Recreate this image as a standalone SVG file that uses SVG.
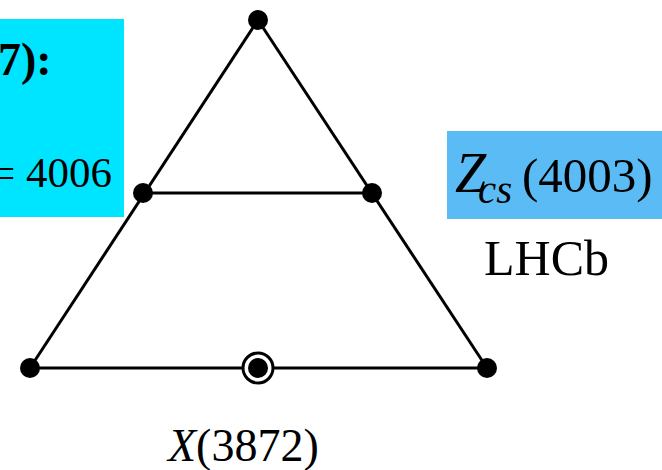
<svg xmlns="http://www.w3.org/2000/svg" width="662" height="470" viewBox="0 0 662 470">
<style>
.t{font-family:"Liberation Serif",serif;fill:#000}
.e{stroke:#000;stroke-width:3;fill:none}
.d{fill:#000}
</style>
<rect x="0" y="0" width="662" height="470" fill="#fff"/>
<g id="label-left">
<rect x="0" y="19" width="124" height="198" fill="#00E5FF"/>
<text class="t" x="-2" y="75" font-size="46" font-weight="bold">7):</text>
<text class="t" x="112" y="187" font-size="43" text-anchor="end">= 4006</text>
</g>
<g id="label-right">
<rect x="447" y="131" width="215" height="88" fill="#5BBCF5"/>
<text class="t" y="192" font-size="56"><tspan x="455" font-style="italic">Z</tspan><tspan x="478" y="203" font-style="italic" font-size="41">cs</tspan><tspan x="522" y="192" font-size="49">(4003)</tspan></text>
<text class="t" x="484" y="275" font-size="50">LHCb</text>
</g>
<g id="connectors">
<line class="e" x1="258" y1="20" x2="30" y2="368"/>
<line class="e" x1="258" y1="20" x2="487" y2="368"/>
<line class="e" x1="143" y1="193" x2="372" y2="193"/>
<line class="e" x1="30" y1="368" x2="487" y2="368"/>
</g>
<g id="n-top"><circle class="d" cx="258" cy="20" r="10"/></g>
<g id="n-midleft"><circle class="d" cx="143" cy="193" r="10"/></g>
<g id="n-midright"><circle class="d" cx="372" cy="193" r="10"/></g>
<g id="n-botleft"><circle class="d" cx="30" cy="368" r="10"/></g>
<g id="n-botright"><circle class="d" cx="487" cy="368" r="10"/></g>
<g id="n-x3872">
<circle cx="258" cy="368" r="15" fill="#fff" stroke="#000" stroke-width="3"/>
<circle class="d" cx="258" cy="368" r="10"/>
<text class="t" x="168" y="461" font-size="46"><tspan font-style="italic">X</tspan>(3872)</text>
</g>
</svg>
